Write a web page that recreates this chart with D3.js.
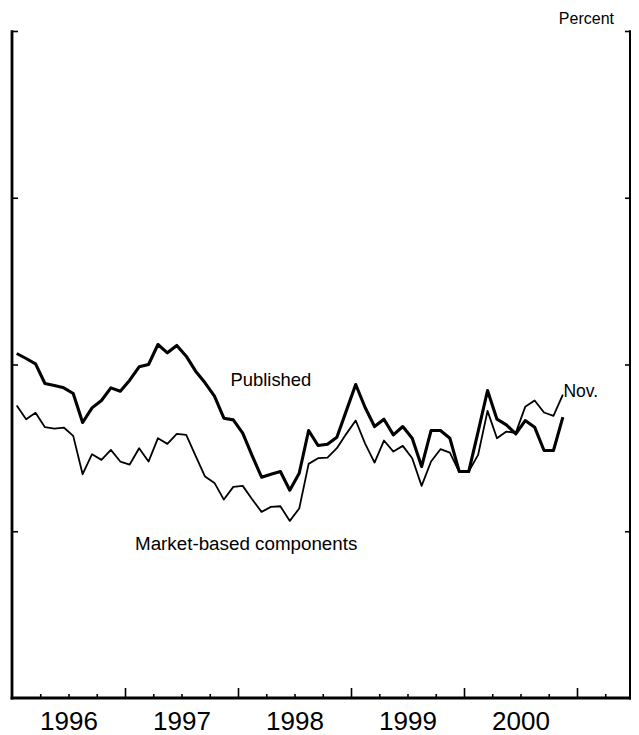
<!DOCTYPE html>
<html><head><meta charset="utf-8">
<script src="https://cdn.jsdelivr.net/npm/d3@7"></script>
<style>html,body{margin:0;padding:0;background:#fff}svg{display:block}</style>
</head><body><svg id="c" width="639" height="735"></svg>
<script>
// Monthly observations, Jan 1996 .. Nov 2000
const firstYear = 1996, firstMonth = 0, nMonths = 59;
const published = [2.033,2.018,2.002,1.943,1.937,1.930,1.913,1.826,1.870,1.892,1.930,1.920,
  1.953,1.993,2.000,2.060,2.035,2.057,2.025,1.980,1.945,1.905,1.839,1.834,
  1.794,1.727,1.662,1.671,1.679,1.623,1.674,1.802,1.757,1.761,1.782,1.861,
  1.940,1.871,1.814,1.836,1.789,1.814,1.779,1.694,1.802,1.802,1.779,1.679,
  1.679,1.799,1.922,1.836,1.819,1.792,1.832,1.812,1.742,1.742,1.842];
const market = [1.877,1.836,1.855,1.812,1.808,1.811,1.786,1.671,1.731,1.714,1.744,1.709,
  1.700,1.749,1.709,1.779,1.762,1.792,1.789,1.726,1.664,1.645,1.595,1.633,
  1.636,1.596,1.558,1.573,1.575,1.531,1.568,1.702,1.719,1.721,1.749,1.792,
  1.832,1.763,1.706,1.772,1.739,1.756,1.719,1.636,1.709,1.746,1.736,1.677,
  1.679,1.729,1.861,1.779,1.799,1.795,1.873,1.892,1.856,1.846,1.910];
const yearLabels = ["1996","1997","1998","1999","2000"];
const yTicks = [1.5, 2.0, 2.5, 3.0];
const seriesLabels = {published: "Published", market: "Market-based components", last: "Nov.", unit: "Percent"};

const svg = d3.select("#c");
const font = "'Liberation Sans', Arial, Helvetica, sans-serif";

const left = 12, right = 630, bottomY = 698;
const x = d3.scaleLinear().domain([1996, 1996 + (right - left) / 113]).range([left, right]);
const y = d3.scaleLinear().domain([1.0, 3.0]).range([698, 31]);

const t = d3.range(nMonths).map(i => firstYear + (firstMonth + i + 0.5) / 12);

// x axis ticks (inside, pointing up)
const quarters = [];
for (let yr = 1996; yr <= 2001; yr++) for (let q = 1; q < 4; q++) { const v = yr + q / 4; if (v < x.domain()[1]) quarters.push(v); }
const years = [1997, 1998, 1999, 2000, 2001];

const gMinor = svg.append("g").attr("transform", `translate(0,${bottomY})`)
  .call(d3.axisBottom(x).tickValues(quarters).tickSize(-4).tickFormat(""));
const gMajor = svg.append("g").attr("transform", `translate(0,${bottomY})`)
  .call(d3.axisBottom(x).tickValues(years).tickSize(-10).tickFormat(""));
const gLab = svg.append("g").attr("transform", `translate(0,${bottomY})`)
  .call(d3.axisBottom(x).tickValues(yearLabels.map(d => +d + 0.5)).tickSize(0).tickPadding(0)
    .tickFormat((d, i) => yearLabels[i]));
[gMinor, gMajor, gLab].forEach(g => {
  g.select(".domain").remove();
  g.selectAll(".tick line").attr("stroke", "#000").attr("stroke-width", 1.6);
});
gLab.selectAll("text").attr("font-family", font).attr("font-size", 26).attr("fill", "#000")
  .attr("y", 32).attr("dy", 0);

// y axes (unlabeled ticks, inside)
const gL = svg.append("g").attr("transform", `translate(${left},0)`)
  .call(d3.axisRight(y).tickValues(yTicks).tickSize(6).tickFormat(""));
const gR = svg.append("g").attr("transform", `translate(${right},0)`)
  .call(d3.axisLeft(y).tickValues(yTicks).tickSize(5).tickFormat(""));
[gL, gR].forEach(g => { g.select(".domain").remove(); g.selectAll(".tick line").attr("stroke", "#000").attr("stroke-width", 1.6); });

// frame lines
svg.append("line").attr("x1", left).attr("x2", left).attr("y1", y(3.0) - 0.8).attr("y2", bottomY + 1.5)
  .attr("stroke", "#000").attr("stroke-width", 2.8);
svg.append("line").attr("x1", right).attr("x2", right).attr("y1", y(3.0) - 0.8).attr("y2", bottomY + 1.5)
  .attr("stroke", "#000").attr("stroke-width", 2);
svg.append("line").attr("x1", left - 1.4).attr("x2", right + 1).attr("y1", bottomY).attr("y2", bottomY)
  .attr("stroke", "#000").attr("stroke-width", 3);

// lines
const line = d3.line().x((d, i) => x(t[i])).y(d => y(d)).curve(d3.curveLinear);
svg.append("path").datum(market).attr("d", line).attr("fill", "none")
  .attr("stroke", "#000").attr("stroke-width", 1.8).attr("stroke-linejoin", "round");
svg.append("path").datum(published).attr("d", line).attr("fill", "none")
  .attr("stroke", "#000").attr("stroke-width", 3.1).attr("stroke-linejoin", "round");

// labels
const txt = (s, xx, yy, size, anchor) => svg.append("text").attr("x", xx).attr("y", yy)
  .attr("font-family", font).attr("font-size", size).attr("fill", "#000")
  .attr("text-anchor", anchor || "start").text(s);
txt(seriesLabels.published, 230.5, 386, 18.4);
txt(seriesLabels.market, 135, 550, 18.8);
txt(seriesLabels.last, x(t[nMonths - 1]) + 0.5, 397, 17.5);
txt(seriesLabels.unit, 614, 24, 16, "end");
</script></body></html>
